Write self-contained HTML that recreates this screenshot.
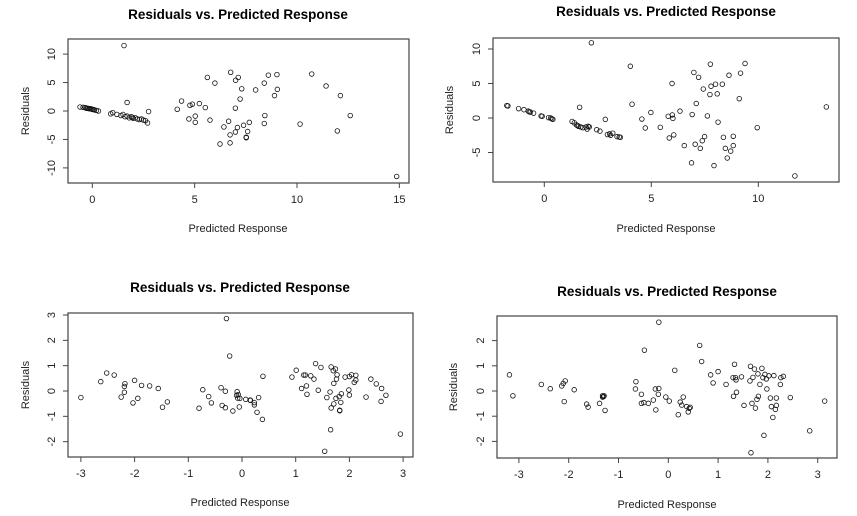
<!DOCTYPE html>
<html><head><meta charset="utf-8"><style>
html,body{margin:0;padding:0;background:#fff;width:857px;height:516px;overflow:hidden}
svg{display:block;font-family:"Liberation Sans",Arial,sans-serif}
</style></head><body>
<svg id="chart" width="857" height="516" viewBox="0 0 857 516"></svg>
<script>
// ---- data ----
const p1X = [-0.6,-0.45,-0.35,-0.3,-0.25,-0.2,-0.15,-0.1,-0.05,0,0.05,0.1,0.2,0.3,
0.9,1.0,1.2,1.4,1.5,1.6,1.7,1.8,1.9,1.95,2.0,2.1,2.2,2.3,2.4,2.5,2.6,2.7,2.75,1.55,1.7,
4.15,4.36,4.77,4.89,4.72,5.03,5.03,5.23,5.52,5.62,5.75,5.99,6.24,6.43,6.66,6.76,6.73,6.73,6.99,6.99,7.0,7.13,7.09,7.22,7.3,7.39,7.52,7.52,7.59,7.67,7.98,8.4,8.43,8.4,8.6,8.9,9.02,9.04,10.15,10.72,11.42,11.97,12.12,12.6,14.87];
const p1Y = [0.7,0.65,0.6,0.5,0.5,0.45,0.4,0.4,0.35,0.3,0.25,0.2,0.1,0,
-0.5,-0.3,-0.6,-0.8,-0.6,-1.0,-0.9,-1.2,-1.0,-1.1,-1.3,-1.2,-1.4,-1.5,-1.4,-1.6,-1.7,-2.1,-0.1,11.5,1.5,
0.3,1.75,1.0,1.2,-1.4,-0.9,-2.0,1.3,0.6,5.9,-1.6,4.9,-5.8,-2.8,-1.8,6.8,-4.2,-5.6,-3.7,0.5,5.4,5.9,-2.9,2.1,3.9,-2.5,-4.7,-4.6,-3.6,-2.0,3.7,4.9,-0.8,-2.2,6.3,2.7,6.4,3.8,-2.3,6.5,4.4,-3.5,2.7,-0.8,-11.5];
const p2X = [-1.75,-1.7,-1.2,-0.95,-0.75,-0.7,-0.65,-0.5,-0.15,-0.1,0.2,0.3,0.35,0.4,
1.3,1.4,1.5,1.55,1.6,1.7,1.8,1.95,2.0,2.05,2.1,2.45,2.6,2.95,3.05,3.1,3.2,3.4,3.5,3.55,2.85,1.65,2.2,
4.02,4.1,4.56,4.72,4.98,5.42,5.79,5.84,5.97,5.98,6.01,6.05,6.34,6.54,6.88,6.91,6.99,7.05,7.1,7.21,7.29,7.38,7.43,7.49,7.62,7.74,7.76,7.79,7.93,8.0,8.08,8.12,8.32,8.37,8.46,8.55,8.63,8.71,8.83,8.83,9.11,9.17,9.38,9.95,11.71,13.18];
const p2Y = [1.8,1.75,1.35,1.2,1.0,0.9,0.85,0.7,0.3,0.25,0.05,0,-0.1,-0.2,
-0.5,-0.7,-1.0,-1.1,-1.2,-1.3,-1.4,-1.3,-1.6,-1.2,-1.3,-1.7,-1.9,-2.4,-2.3,-2.5,-2.2,-2.7,-2.75,-2.8,-0.2,1.55,10.9,
7.5,2.0,-0.15,-1.45,0.8,-1.35,0.25,-2.9,5.0,0.45,-0.05,-2.45,1.0,-4.0,-6.5,0.5,6.6,-3.8,2.1,5.9,-4.4,-3.3,4.2,-2.7,0.3,3.4,7.8,4.6,-6.9,4.9,3.5,-0.6,4.9,-2.8,-4.4,-5.8,6.2,-4.8,-2.65,-4.0,2.8,6.5,7.9,-1.4,-8.4,1.6];
const p3X = [-3.0,-2.63,-2.52,-2.38,-2.25,-2.19,-2.18,-2.19,-2.03,-2.0,-1.94,-1.87,-1.72,-1.56,-1.48,-1.39,
-0.8,-0.73,-0.62,-0.57,-0.39,-0.37,-0.31,-0.31,-0.29,-0.23,-0.17,-0.10,-0.09,-0.08,-0.07,-0.05,-0.04,0.07,0.15,0.16,0.23,0.23,0.28,0.31,0.38,0.39,
0.93,1.01,1.11,1.15,1.18,1.2,1.21,1.28,1.34,1.37,1.42,1.47,1.54,1.58,1.64,1.65,1.66,1.66,1.70,1.71,1.71,1.74,1.75,1.76,1.77,1.81,1.82,1.82,1.84,1.85,1.92,1.99,2.0,2.0,2.04,2.09,2.12,2.12,2.31,2.4,2.5,2.6,2.59,2.68,2.95];
const p3Y = [-0.26,0.37,0.71,0.63,-0.24,0.18,0.29,-0.05,-0.47,0.42,-0.29,0.22,0.2,0.1,-0.64,-0.43,
-0.68,0.05,-0.22,-0.47,0.13,-0.57,-0.01,-0.66,2.86,1.38,-0.79,-0.17,-0.03,-0.28,-0.14,-0.63,-0.29,-0.33,-0.36,-0.37,-0.46,-0.55,-0.84,-0.26,-1.12,0.58,
0.55,0.82,0.1,0.63,0.63,0.2,-0.13,0.6,0.47,1.08,0.03,0.93,-2.38,-0.26,-0.04,-1.53,-0.67,0.95,0.8,-0.51,0.3,0.87,-0.29,0.47,0.64,-0.22,-0.78,-0.76,-0.45,-0.11,0.55,0.04,-0.16,0.57,0.64,0.34,0.62,0.43,-0.24,0.47,0.28,0.1,-0.41,-0.17,-1.7];
const p4X = [-3.19,-3.12,-2.55,-2.37,-2.14,-2.11,-2.07,-2.09,-1.89,-1.64,-1.61,-1.38,-1.32,-1.32,-1.30,-1.29,-1.27,
-0.66,-0.65,-0.54,-0.54,-0.49,-0.48,-0.40,-0.30,-0.26,-0.25,-0.20,-0.19,-0.19,-0.05,0.02,0.13,0.2,0.24,0.27,0.30,0.37,0.4,0.42,0.44,
0.63,0.67,0.85,0.9,1.0,1.16,1.3,1.31,1.33,1.35,1.36,1.37,1.47,1.52,1.64,1.65,1.66,1.68,1.70,1.73,1.75,1.78,1.80,1.81,1.84,1.88,1.90,1.92,1.94,1.98,1.97,2.02,2.05,2.07,2.1,2.12,2.15,2.17,2.17,2.25,2.26,2.31,2.45,2.84,3.14];
const p4Y = [0.64,-0.19,0.26,0.09,0.2,0.3,0.4,-0.42,0.05,-0.52,-0.64,-0.49,-0.24,-0.19,-0.22,-0.19,-0.77,
0.08,0.37,-0.13,-0.49,-0.46,1.62,-0.49,-0.36,0.08,-0.75,-0.13,0.1,2.73,-0.24,-0.4,0.82,-0.94,-0.44,-0.56,-0.24,-0.62,-0.83,-0.69,-0.65,
1.81,1.17,0.64,0.32,0.77,0.26,0.53,-0.21,1.06,0.53,0.44,-0.05,0.56,-0.57,0.4,0.98,-2.45,-0.49,0.54,0.87,-0.68,-0.33,0.68,-0.21,0.26,0.9,0.53,-1.76,0.66,0.08,0.48,0.6,-0.28,-0.62,-1.05,0.61,-0.73,-0.57,-0.28,0.26,0.53,0.58,-0.26,-1.58,-0.4];
const p1XTicks = [0,5,10,15];
const p1YTicks = [-10,-5,0,5,10];
const p2XTicks = [0,5,10];
const p2YTicks = [-5,0,5,10];
const p3XTicks = [-3,-2,-1,0,1,2,3];
const p3YTicks = [-2,-1,0,1,2,3];
const p4XTicks = [-3,-2,-1,0,1,2,3];
const p4YTicks = [-2,-1,0,1,2];

const NS = "http://www.w3.org/2000/svg";
const svg = document.getElementById('chart');
function mk(tag, attrs, parent){const e=document.createElementNS(NS,tag);for(const k in attrs)e.setAttribute(k,attrs[k]);(parent||svg).appendChild(e);return e;}

function panel(id, geo, xs, ys, xt, yt){
  const g = mk('g',{});
  
  
  const sx = v => geo.x0 + v*geo.kx;
  const sy = v => geo.y0 - v*geo.ky;
  const t = mk('text',{x:geo.tx,y:geo.ty,'text-anchor':'middle','font-size':'13.5','font-weight':'bold',fill:'#000'},g);
  t.textContent='Residuals vs. Predicted Response';
  
  
  const box = mk('rect',{x:geo.l,y:geo.t,width:geo.r-geo.l,height:geo.b-geo.t,fill:'none',stroke:'#444','stroke-width':'1.2'},g);
  
  
  xt.forEach(v=>{
    const x=sx(v);
    mk('line',{x1:x,x2:x,y1:geo.b,y2:geo.b+5,stroke:'#444','stroke-width':'1'},g);
    const tl=mk('text',{x:x,y:geo.b+20,'text-anchor':'middle','font-size':'11',fill:'#222'},g);
    tl.textContent=String(v).replace('-','-');
    
    
  });
  mk('line',{x1:sx(xt[0]),x2:sx(xt[xt.length-1]),y1:geo.b,y2:geo.b,stroke:'#444','stroke-width':'1'},g);
  yt.forEach(v=>{
    const y=sy(v);
    mk('line',{x1:geo.l-5,x2:geo.l,y1:y,y2:y,stroke:'#444','stroke-width':'1'},g);
    const tl=mk('text',{x:geo.l-13,y:y,'text-anchor':'middle','font-size':'11',fill:'#222',transform:'rotate(-90 '+(geo.l-13)+' '+y+')'},g);
    tl.textContent=String(v);
    
    
  });
  const xl=mk('text',{x:geo.tx,y:geo.xly,'text-anchor':'middle','font-size':'11',fill:'#222'},g);
  xl.textContent='Predicted Response';
  
  
  const cy=(geo.t+geo.b)/2;
  const yl=mk('text',{x:geo.ylx,y:cy,'text-anchor':'middle','font-size':'11',fill:'#222',transform:'rotate(-90 '+geo.ylx+' '+cy+')'},g);
  yl.textContent='Residuals';
  
  
  xs.forEach((v,i)=>{
    const c=mk('circle',{cx:sx(v),cy:sy(ys[i]),r:'2.3',fill:'none',stroke:'#111','stroke-width':'0.8'},g);
    
    
  });
}
panel('panel-top-left',{l:68,r:409,t:39,b:183,x0:92.3,kx:20.47,y0:111,ky:5.69,tx:238,ty:19,xly:232,ylx:29},p1X,p1Y,p1XTicks,p1YTicks);
panel('panel-top-right',{l:493,r:839,t:38,b:182,x0:544.3,kx:21.4,y0:118,ky:6.9,tx:666,ty:16,xly:232,ylx:453},p2X,p2Y,p2XTicks,p2YTicks);
panel('panel-bottom-left',{l:68,r:413,t:313,b:457,x0:242,kx:53.7,y0:391,ky:25.33,tx:240,ty:292,xly:506,ylx:29},p3X,p3Y,p3XTicks,p3YTicks);
panel('panel-bottom-right',{l:497,r:837,t:316,b:458,x0:668.3,kx:49.8,y0:391,ky:25.2,tx:667,ty:296,xly:508,ylx:457},p4X,p4Y,p4XTicks,p4YTicks);
</script>
</body></html>
